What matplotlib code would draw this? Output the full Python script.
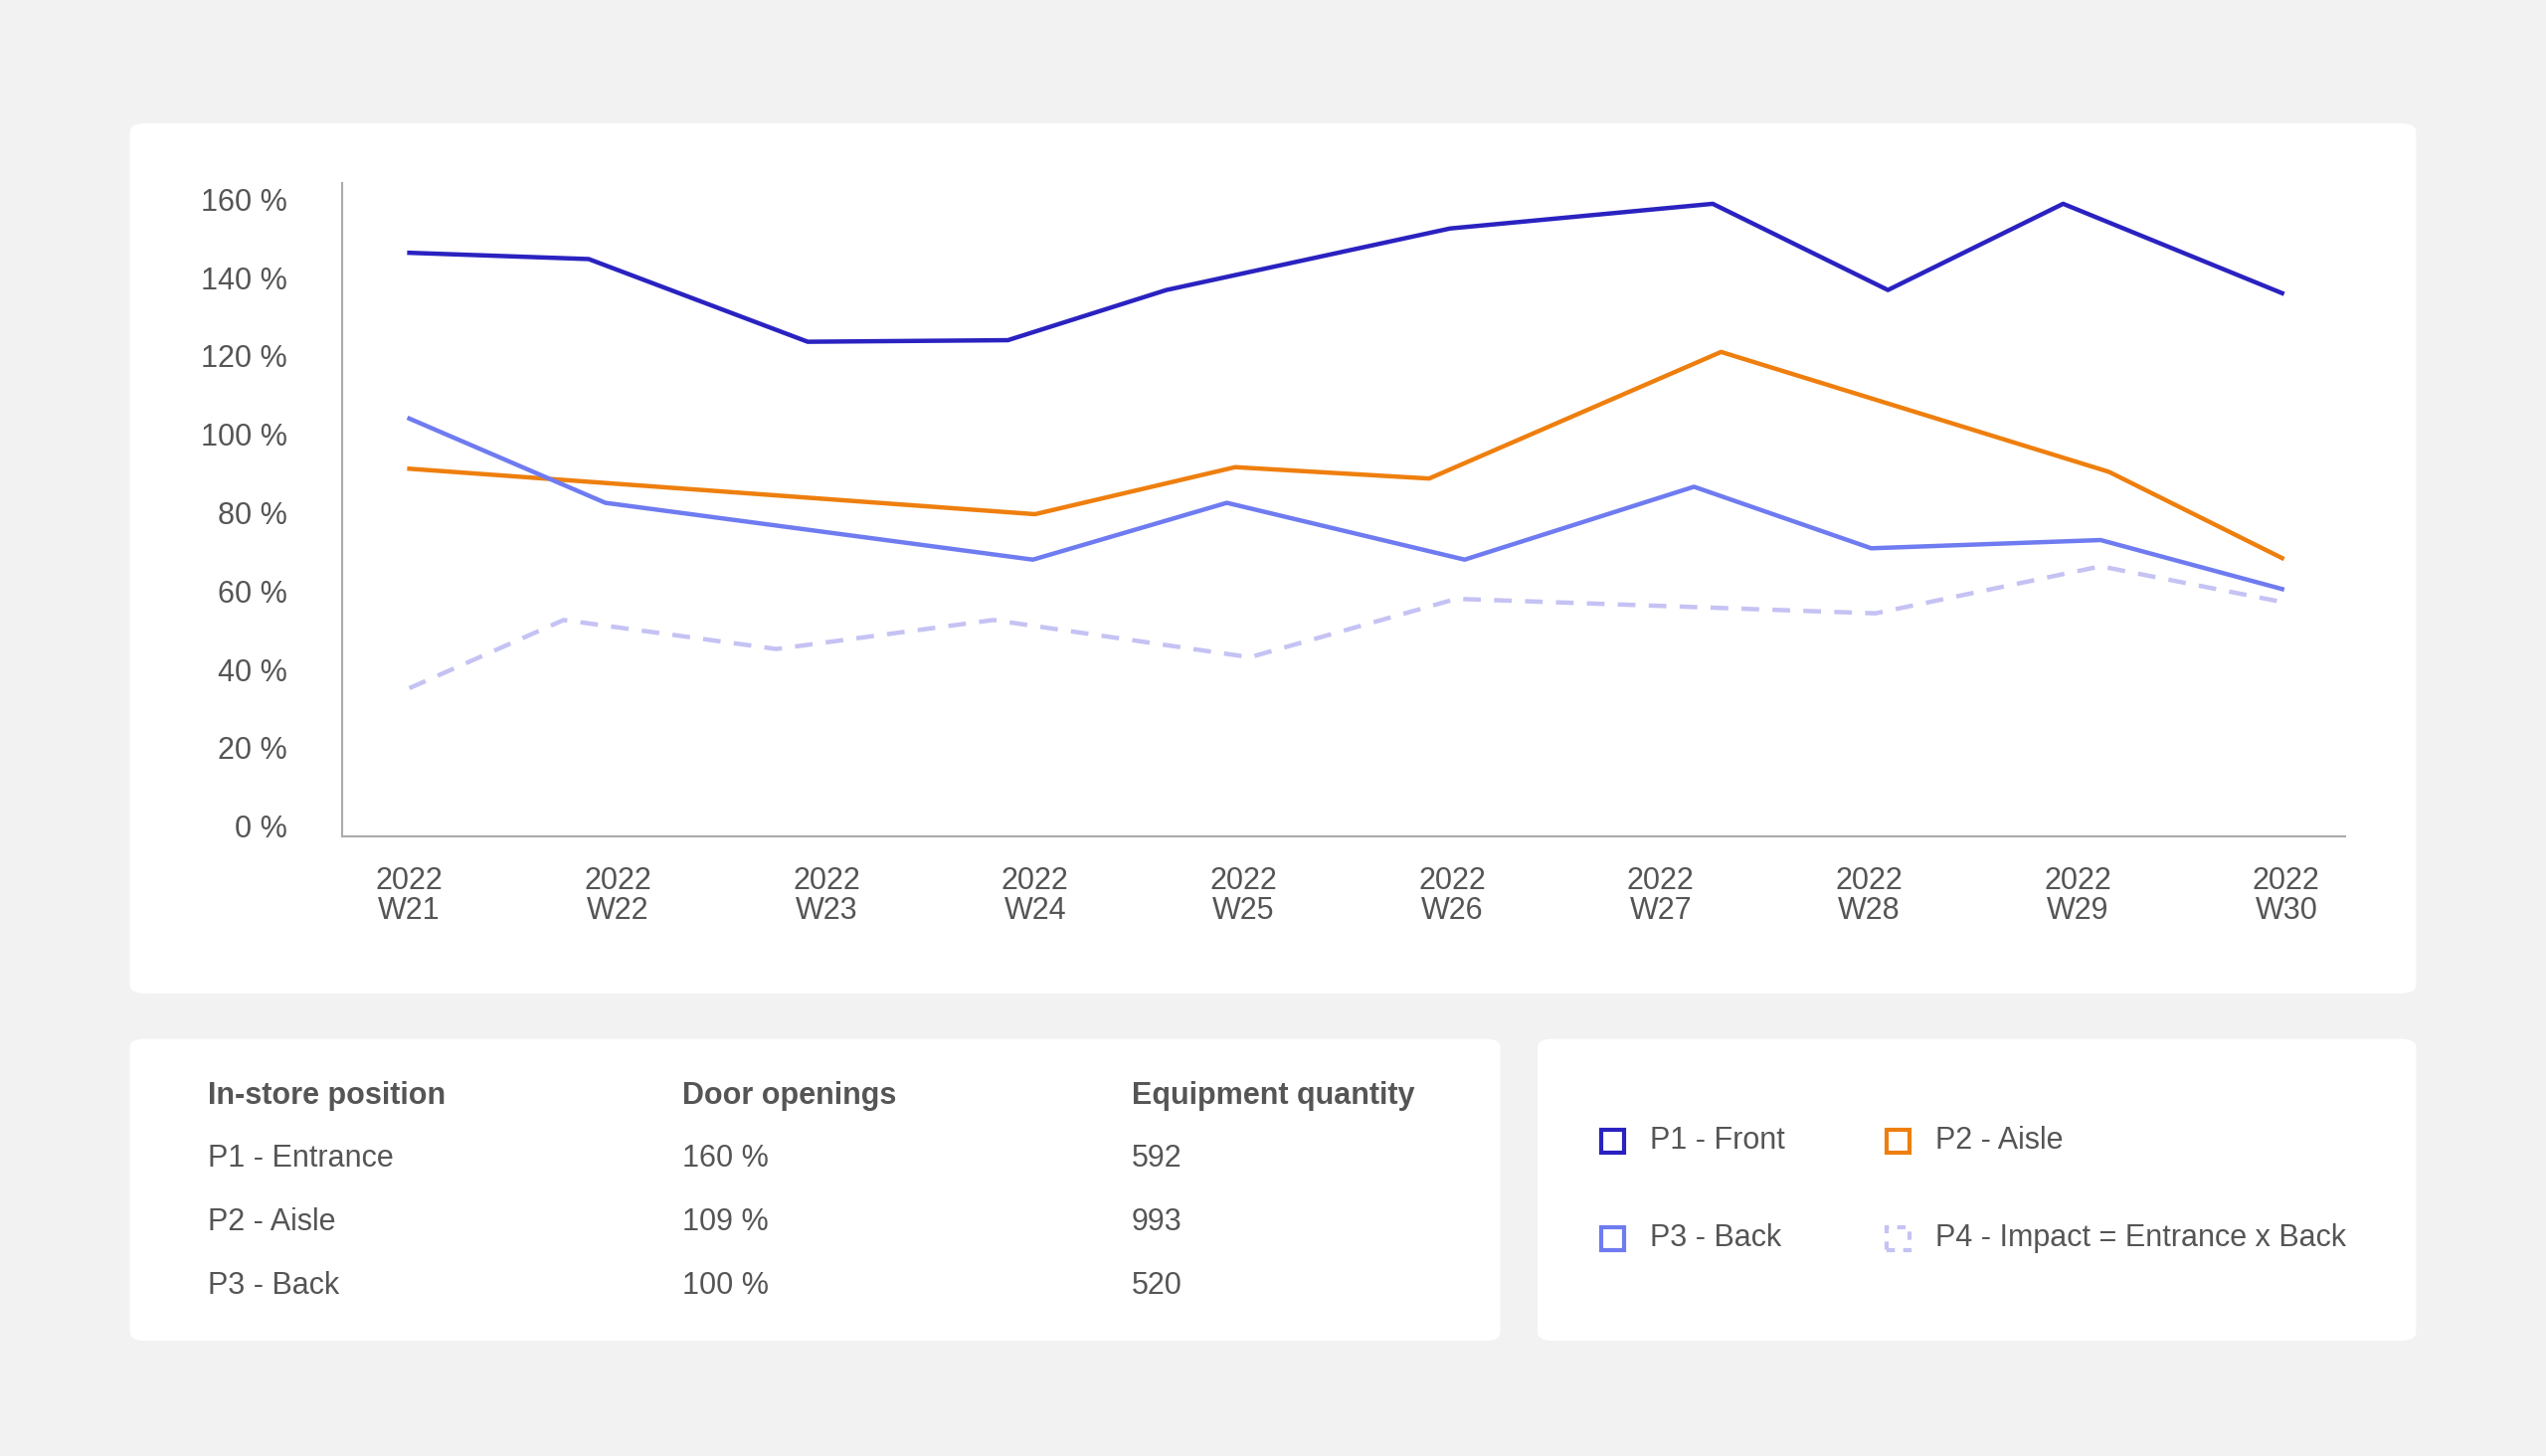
import matplotlib
matplotlib.use("Agg")
import matplotlib.pyplot as plt
from matplotlib.patches import FancyBboxPatch, Rectangle

weeks = ["2022\nW21","2022\nW22","2022\nW23","2022\nW24","2022\nW25","2022\nW26","2022\nW27","2022\nW28","2022\nW29","2022\nW30"]
p1_x = [0, 0.86, 1.91, 2.87, 3.63, 4.99, 6.25, 7.09, 7.93, 8.98]
p1_y = [146.3, 144.7, 123.6, 124.0, 136.8, 152.5, 158.8, 136.8, 158.8, 136.0]
p2_x = [0, 3.0, 3.96, 4.89, 6.29, 8.15, 8.98]
p2_y = [91.2, 79.6, 91.6, 88.7, 121.0, 90.4, 68.4]
p3_x = [0, 0.94, 2.99, 3.92, 5.06, 6.16, 7.01, 8.11, 8.98]
p3_y = [104.0, 82.5, 68.0, 82.5, 68.0, 86.6, 70.9, 73.0, 60.5]
p4_x = [0, 0.74, 1.76, 2.80, 4.03, 5.02, 7.03, 8.11, 8.98]
p4_y = [35.2, 52.6, 45.2, 52.6, 43.1, 58.0, 54.3, 66.3, 57.2]

table_head = ["In-store position", "Door openings", "Equipment quantity"]
table_rows = [["P1 - Entrance", "160 %", "592"], ["P2 - Aisle", "109 %", "993"], ["P3 - Back", "100 %", "520"]]
legend_labels = ["P1 - Front", "P2 - Aisle", "P3 - Back", "P4 - Impact = Entrance x Back"]

C1, C2, C3, C4 = "#2a22c0", "#ee7f0e", "#6f7bf0", "#c5c2f4"
TXT = "#555555"
plt.rcParams['font.family'] = ['Liberation Sans', 'DejaVu Sans']

W, H = 1568, 897
fig = plt.figure(figsize=(25.6, 14.64), dpi=100, facecolor="#f2f2f2")

def card(x0, y0, x1, y1):
    fig.patches.append(FancyBboxPatch((x0/W, 1-y1/H), (x1-x0)/W, (y1-y0)/H,
        boxstyle="round,pad=0,rounding_size=0.006", transform=fig.transFigure,
        facecolor="white", edgecolor="none", zorder=-5))
card(80, 76, 1488, 612)
card(80, 640, 924, 826)
card(947, 640, 1488, 826)

ax = fig.add_axes([211/W, 1-515/H, (1444-211)/W, (515-113)/H])
ax.set_zorder(5)
ax.set_facecolor("none")
ax.plot(p1_x, p1_y, color=C1, lw=3.2)
ax.plot(p2_x, p2_y, color=C2, lw=3.2)
ax.plot(p3_x, p3_y, color=C3, lw=3.2)
ax.plot(p4_x, p4_y, color=C4, lw=3.2, ls=(0, (4, 3)))
ax.set_xlim(-0.32, 9.28)
ax.set_ylim(-2.5, 164)
ax.set_yticks(range(0, 161, 20))
ax.set_yticklabels([f"{v} %" for v in range(0, 161, 20)])
ax.set_xticks(range(10))
ax.set_xticklabels(weeks, linespacing=1.0)
ax.tick_params(length=0, labelsize=22, colors=TXT)
ax.tick_params(axis='y', pad=40)
ax.tick_params(axis='x', pad=22)
for s in ["top", "right"]:
    ax.spines[s].set_visible(False)
for s in ["left", "bottom"]:
    ax.spines[s].set_color("#aaaaaa")
    ax.spines[s].set_linewidth(1.5)

cols = [128, 420, 697]
for c, t in zip(cols, table_head):
    fig.text(c/W, 1-675/H, t, fontsize=22, color=TXT, weight="bold", va="center")
for i, row in enumerate(table_rows):
    for c, t in zip(cols, row):
        fig.text(c/W, 1-(714+39*i)/H, t, fontsize=22, color=TXT, va="center")

leg = [(993, 703, C1, "-"), (1169, 703, C2, "-"), (993, 763, C3, "-"), (1169, 763, C4, "--")]
for (x, y, col, ls), lab in zip(leg, legend_labels):
    s = 14
    fig.patches.append(Rectangle(((x-s/2)/W, 1-(y+s/2)/H), s/W, s/H, transform=fig.transFigure,
        facecolor="none", edgecolor=col, lw=3, ls=ls if ls == "-" else (0, (2, 2))))
    fig.text((x+23)/W, 1-y/H, lab, fontsize=22, color=TXT, va="center")

fig.savefig("out.png", dpi=100, facecolor=fig.get_facecolor())
